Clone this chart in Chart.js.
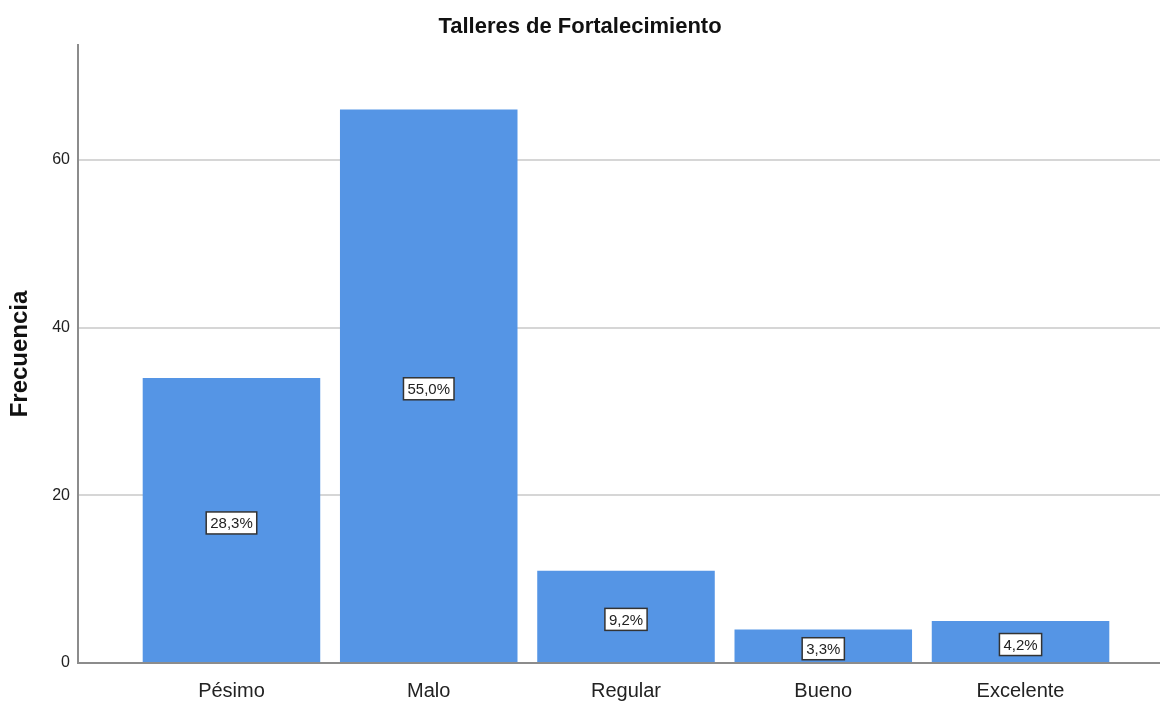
<!DOCTYPE html>
<html>
<head>
<meta charset="utf-8">
<script src="https://cdn.jsdelivr.net/npm/chart.js@4.4.0/dist/chart.umd.min.js"></script>
<style>
  body { margin: 0; background: #fff; }
  #chart { display: block; }
</style>
</head>
<body>
<canvas id="chart" width="1160" height="703"></canvas>
<script>
// data
const categories = ['Pésimo', 'Malo', 'Regular', 'Bueno', 'Excelente'];
const frequencies = [34, 66, 11, 4, 5];
const percents = [28.3, 55.0, 9.2, 3.3, 4.2];
const yTicks = [0, 20, 40, 60];

const FONT = '"Liberation Sans", Arial, sans-serif';
const BAR_COLOR = '#5595e5';

// white boxes with the percentage, centred in each bar
const pctLabels = {
    id: 'pctLabels',
    afterDatasetsDraw(chart) {
        const ctx = chart.ctx;
        const meta = chart.getDatasetMeta(0);
        ctx.save();
        ctx.font = '15px ' + FONT;
        ctx.textAlign = 'center';
        ctx.textBaseline = 'middle';
        meta.data.forEach((bar, i) => {
            const txt = percents[i].toFixed(1).replace('.', ',') + '%';
            const cy = (bar.y + bar.base) / 2 + 3;
            const w = ctx.measureText(txt).width + 8;
            const h = 22;
            ctx.fillStyle = '#fff';
            ctx.fillRect(bar.x - w / 2, cy - h / 2, w, h);
            ctx.strokeStyle = '#333';
            ctx.lineWidth = 1.5;
            ctx.strokeRect(bar.x - w / 2, cy - h / 2, w, h);
            ctx.fillStyle = '#222';
            ctx.fillText(txt, bar.x, cy + 1);
        });
        ctx.restore();
    }
};

new Chart(document.getElementById('chart'), {
    type: 'bar',
    data: {
        datasets: [{
            data: frequencies.map((v, i) => ({ x: i, y: v })),
            backgroundColor: BAR_COLOR,
            borderWidth: 0,
            barPercentage: 0.9,
            categoryPercentage: 1.0
        }]
    },
    options: {
        responsive: false,
        animation: false,
        layout: { padding: 0 },
        plugins: {
            legend: { display: false },
            tooltip: { enabled: false },
            title: {
                display: true,
                text: 'Talleres de Fortalecimiento',
                color: '#111',
                font: { family: FONT, size: 22, weight: 'bold' },
                padding: { top: 14, bottom: 4.6 }
            }
        },
        scales: {
            x: {
                type: 'linear',
                offset: false,
                min: -0.778,
                max: 4.707,
                afterBuildTicks: s => { s.ticks = categories.map((c, i) => ({ value: i })); },
                afterFit: s => { s.height = 40; },
                grid: { display: false, drawTicks: false, offset: false },
                border: { color: '#8c8c8c', width: 2 },
                ticks: {
                    padding: 16,
                    color: '#222',
                    font: { family: FONT, size: 20 },
                    callback: v => categories[v]
                }
            },
            y: {
                min: 0,
                max: 73.7,
                afterBuildTicks: s => { s.ticks = yTicks.map(v => ({ value: v })); },
                afterFit: s => { s.width = 78; },
                grid: { color: '#d6d6d6', lineWidth: 2, drawTicks: false },
                border: { color: '#8c8c8c', width: 2 },
                title: {
                    display: true,
                    text: 'Frecuencia',
                    color: '#111',
                    font: { family: FONT, size: 24, weight: 'bold' },
                    padding: { top: 6, bottom: 0 }
                },
                ticks: {
                    padding: 8,
                    color: '#222',
                    font: { family: FONT, size: 16 }
                }
            }
        }
    },
    plugins: [pctLabels]
});
</script>
</body>
</html>
